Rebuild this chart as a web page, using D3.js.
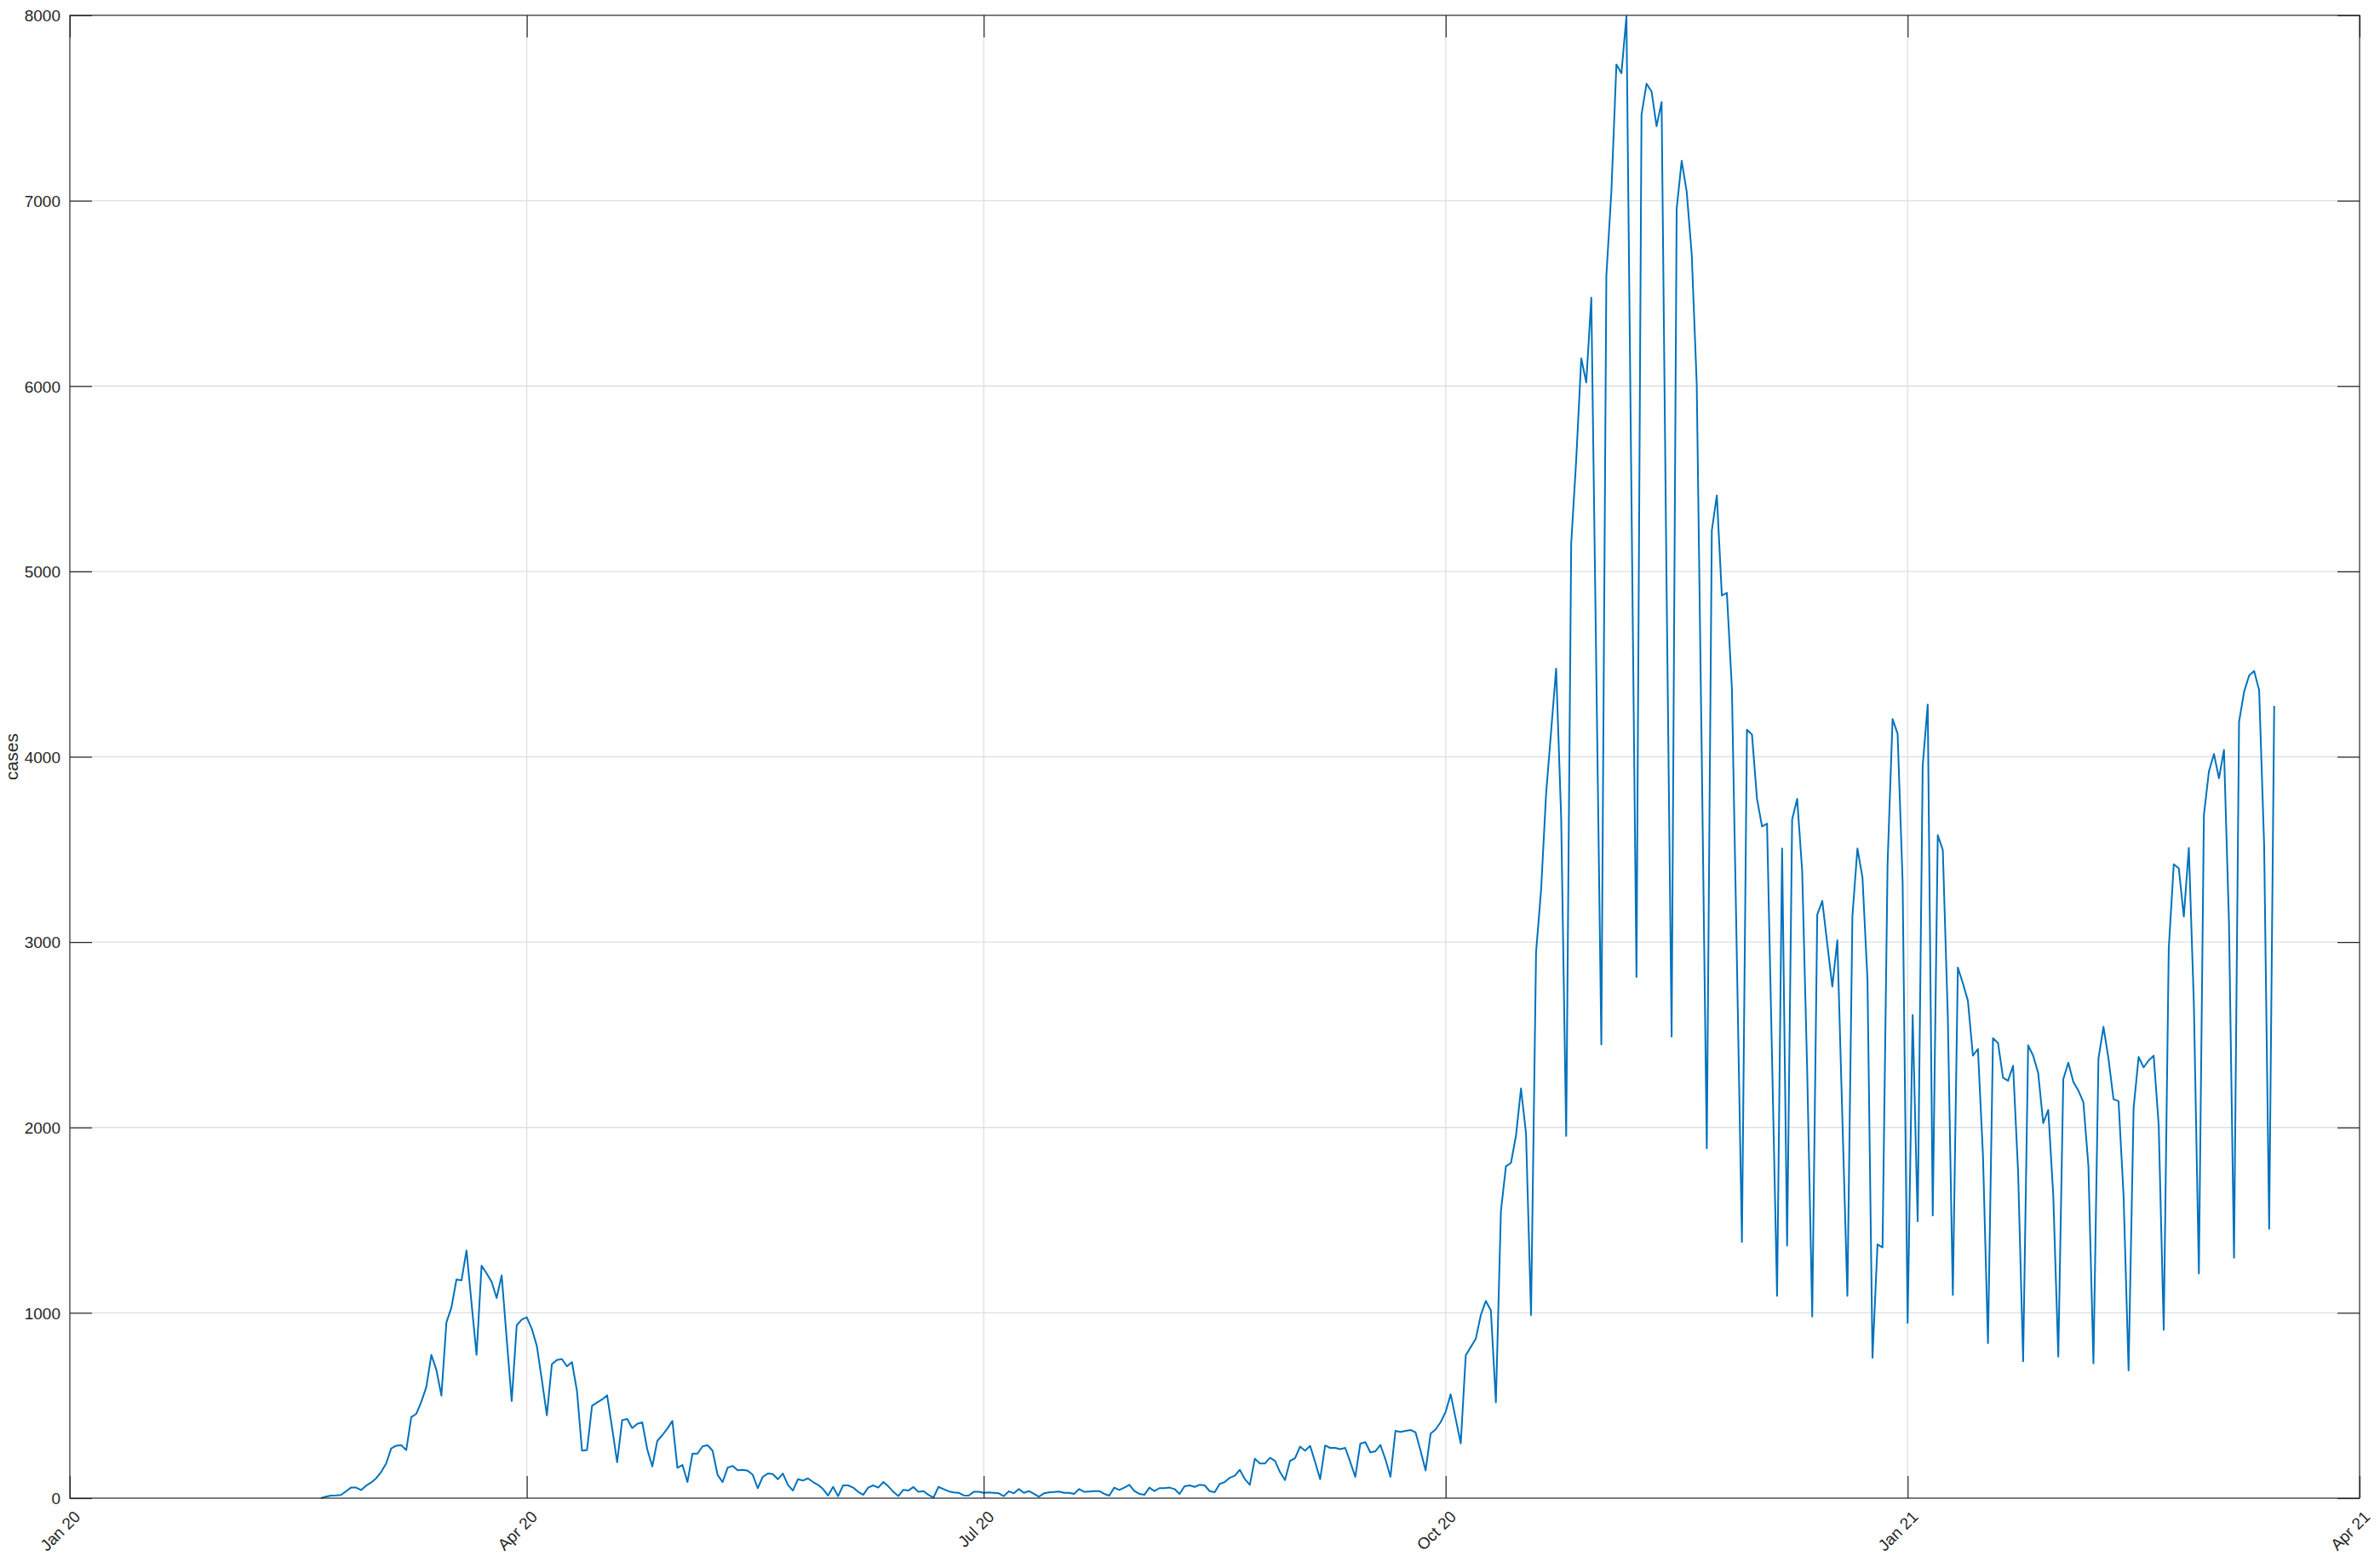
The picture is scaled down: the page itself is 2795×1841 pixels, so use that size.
<!DOCTYPE html>
<html>
<head>
<meta charset="utf-8">
<script src="https://cdn.jsdelivr.net/npm/d3@7"></script>
<style>
  html, body { margin: 0; padding: 0; background: #fff; }
  svg { display: block; }
  text { font-family: "Liberation Sans", Arial, Helvetica, sans-serif; fill: #262626; }
</style>
</head>
<body>
<div id="chart"></div>
<script>
// daily new cases, first value is 20 Feb 2020
const startDate = Date.UTC(2020, 1, 20);
const feb2020 = [0, 8, 14, 15, 17, 37, 57, 57, 44, 67];
const mar2020 = [84, 107, 141, 187, 268, 283, 286, 259, 437, 455, 520, 600, 773, 692, 553, 948, 1029, 1180, 1175, 1336, 1052, 773, 1254, 1213, 1167, 1080, 1202, 860, 524, 933, 963];
const apr2020 = [976, 914, 822, 639, 447, 723, 746, 750, 711, 734, 578, 256, 260, 498, 516, 532, 555, 378, 194, 421, 427, 378, 401, 409, 263, 171, 309, 340, 375, 417];
const may2020 = [164, 179, 87, 240, 240, 279, 286, 256, 126, 87, 164, 174, 151, 153, 148, 126, 54, 115, 133, 130, 102, 133, 72, 41, 102, 95, 107, 87, 72, 49, 14];
const jun2020 = [61, 11, 69, 69, 57, 34, 18, 57, 69, 57, 87, 64, 34, 11, 45, 41, 60, 34, 38, 18, 3, 61, 49, 37, 31, 29, 15, 14, 34, 34];
const jul2020 = [29, 31, 29, 26, 11, 37, 26, 49, 29, 38, 23, 8, 26, 31, 33, 36, 29, 29, 23, 49, 34, 36, 38, 38, 23, 14, 57, 44, 57, 72, 38];
const aug2020 = [23, 18, 57, 38, 54, 54, 57, 49, 23, 64, 69, 61, 72, 69, 38, 32, 77, 87, 110, 121, 153, 103, 72, 213, 187, 187, 218, 202, 141, 98, 201];
const sep2020 = [215, 278, 256, 282, 195, 102, 284, 271, 271, 264, 271, 195, 115, 294, 302, 247, 253, 287, 210, 115, 363, 357, 363, 368, 355, 256, 149, 348, 371, 410];
const oct2020 = [466, 560, 428, 295, 771, 815, 860, 988, 1064, 1013, 517, 1548, 1790, 1808, 1955, 2210, 1968, 988, 2945, 3280, 3800, 4138, 4476, 3670, 1954, 5151, 5603, 6149, 6019, 6477, 4460];
const nov2020 = [2448, 6596, 7049, 7735, 7688, 7995, 5400, 2812, 7464, 7631, 7589, 7402, 7532, 4900, 2490, 6955, 7215, 7048, 6711, 6009, 4000, 1887, 5219, 5410, 4870, 4884, 4369, 2900, 1382, 4146];
const dec2020 = [4120, 3773, 3624, 3639, 2370, 1091, 3505, 1363, 3662, 3773, 3382, 2300, 980, 3148, 3222, 2990, 2760, 3010, 2050, 1091, 3140, 3505, 3350, 2800, 757, 1369, 1353, 3420, 4203, 4125, 3326];
const jan2021 = [946, 2606, 1494, 3953, 4282, 1525, 3577, 3498, 2600, 1096, 2863, 2778, 2684, 2387, 2424, 1850, 836, 2481, 2455, 2268, 2252, 2333, 1760, 739, 2443, 2387, 2293, 2023, 2095, 1635, 764];
const feb2021 = [2261, 2349, 2246, 2199, 2136, 1792, 727, 2371, 2543, 2371, 2152, 2142, 1635, 689, 2105, 2380, 2324, 2362, 2387, 2011, 908, 2966, 3420, 3398, 3138, 3508, 2668, 1212];
const mar2021 = [3686, 3921, 4015, 3884, 4037, 3100, 1297, 4188, 4350, 4438, 4463, 4360, 3520, 1453, 4275];

const yTicks = [0, 1000, 2000, 3000, 4000, 5000, 6000, 7000, 8000];
const xTicks = [Date.UTC(2020, 0, 1), Date.UTC(2020, 3, 1), Date.UTC(2020, 6, 1),
                Date.UTC(2020, 9, 1), Date.UTC(2021, 0, 1), Date.UTC(2021, 3, 1)];
const yLabel = "cases";

const width = 2795, height = 1841;
const margin = { top: 18, right: 24, bottom: 82, left: 82 };
const innerW = width - margin.left - margin.right;
const innerH = height - margin.top - margin.bottom;

// build the date/value table
const values = [].concat(feb2020, mar2020, apr2020, may2020, jun2020, jul2020,
                         aug2020, sep2020, oct2020, nov2020, dec2020, jan2021, feb2021, mar2021);
const data = values.map((v, i) => ({ date: new Date(startDate + i * 864e5), cases: v }));

const svg = d3.select("#chart").append("svg")
    .attr("width", width)
    .attr("height", height);

const g = svg.append("g")
    .attr("transform", `translate(${margin.left},${margin.top})`);

const x = d3.scaleUtc()
    .domain([xTicks[0], xTicks[xTicks.length - 1]])
    .range([0, innerW]);

const y = d3.scaleLinear()
    .domain([0, 8000])
    .range([innerH, 0]);

const gridColor = "#dfdfdf";
const axisColor = "#262626";
const tickLen = 26;

// grid lines
g.append("g").selectAll("line")
    .data(yTicks.slice(1, -1))
  .join("line")
    .attr("x1", 0).attr("x2", innerW)
    .attr("y1", d => y(d)).attr("y2", d => y(d))
    .attr("stroke", gridColor).attr("stroke-width", 1.3);

g.append("g").selectAll("line")
    .data(xTicks.slice(1, -1))
  .join("line")
    .attr("x1", d => x(d)).attr("x2", d => x(d))
    .attr("y1", 0).attr("y2", innerH)
    .attr("stroke", gridColor).attr("stroke-width", 1.3);

// data line
const line = d3.line()
    .x(d => x(d.date))
    .y(d => y(d.cases));

g.append("path")
    .datum(data)
    .attr("fill", "none")
    .attr("stroke", "#0072BD")
    .attr("stroke-width", 2)
    .attr("stroke-linejoin", "round")
    .attr("d", line);

// bottom axis, ticks pointing inward
const xAxis = g.append("g")
    .attr("transform", `translate(0,${innerH})`)
    .call(d3.axisBottom(x).tickValues(xTicks.map(d => new Date(d)))
        .tickFormat(d3.utcFormat("%b %y")).tickSize(-tickLen).tickPadding(0));
xAxis.select(".domain").remove();
xAxis.selectAll("line").attr("stroke", axisColor).attr("stroke-width", 1.2);
xAxis.selectAll("text")
    .attr("font-size", 19)
    .attr("text-anchor", "end")
    .attr("y", 0).attr("dy", 0)
    .attr("transform", "translate(13,23) rotate(-45)");

// top mirrored ticks
const xTop = g.append("g")
    .call(d3.axisTop(x).tickValues(xTicks.map(d => new Date(d))).tickSize(-tickLen).tickFormat(""));
xTop.select(".domain").remove();
xTop.selectAll("line").attr("stroke", axisColor).attr("stroke-width", 1.2);

// left axis
const yAxis = g.append("g")
    .call(d3.axisLeft(y).tickValues(yTicks).tickFormat(d3.format("d"))
        .tickSize(-tickLen).tickPadding(11));
yAxis.select(".domain").remove();
yAxis.selectAll("line").attr("stroke", axisColor).attr("stroke-width", 1.2);
yAxis.selectAll("text").attr("font-size", 19).attr("dy", "0.36em");

// right mirrored ticks
const yRight = g.append("g")
    .attr("transform", `translate(${innerW},0)`)
    .call(d3.axisRight(y).tickValues(yTicks).tickSize(-tickLen).tickFormat(""));
yRight.select(".domain").remove();
yRight.selectAll("line").attr("stroke", axisColor).attr("stroke-width", 1.2);

// box
g.append("rect")
    .attr("width", innerW).attr("height", innerH)
    .attr("fill", "none")
    .attr("stroke", axisColor)
    .attr("stroke-width", 1.2);

// y label
svg.append("text")
    .attr("transform", `translate(14,${margin.top + innerH / 2}) rotate(-90)`)
    .attr("text-anchor", "middle")
    .attr("dy", "0.35em")
    .attr("font-size", 21)
    .text(yLabel);
</script>
</body>
</html>
